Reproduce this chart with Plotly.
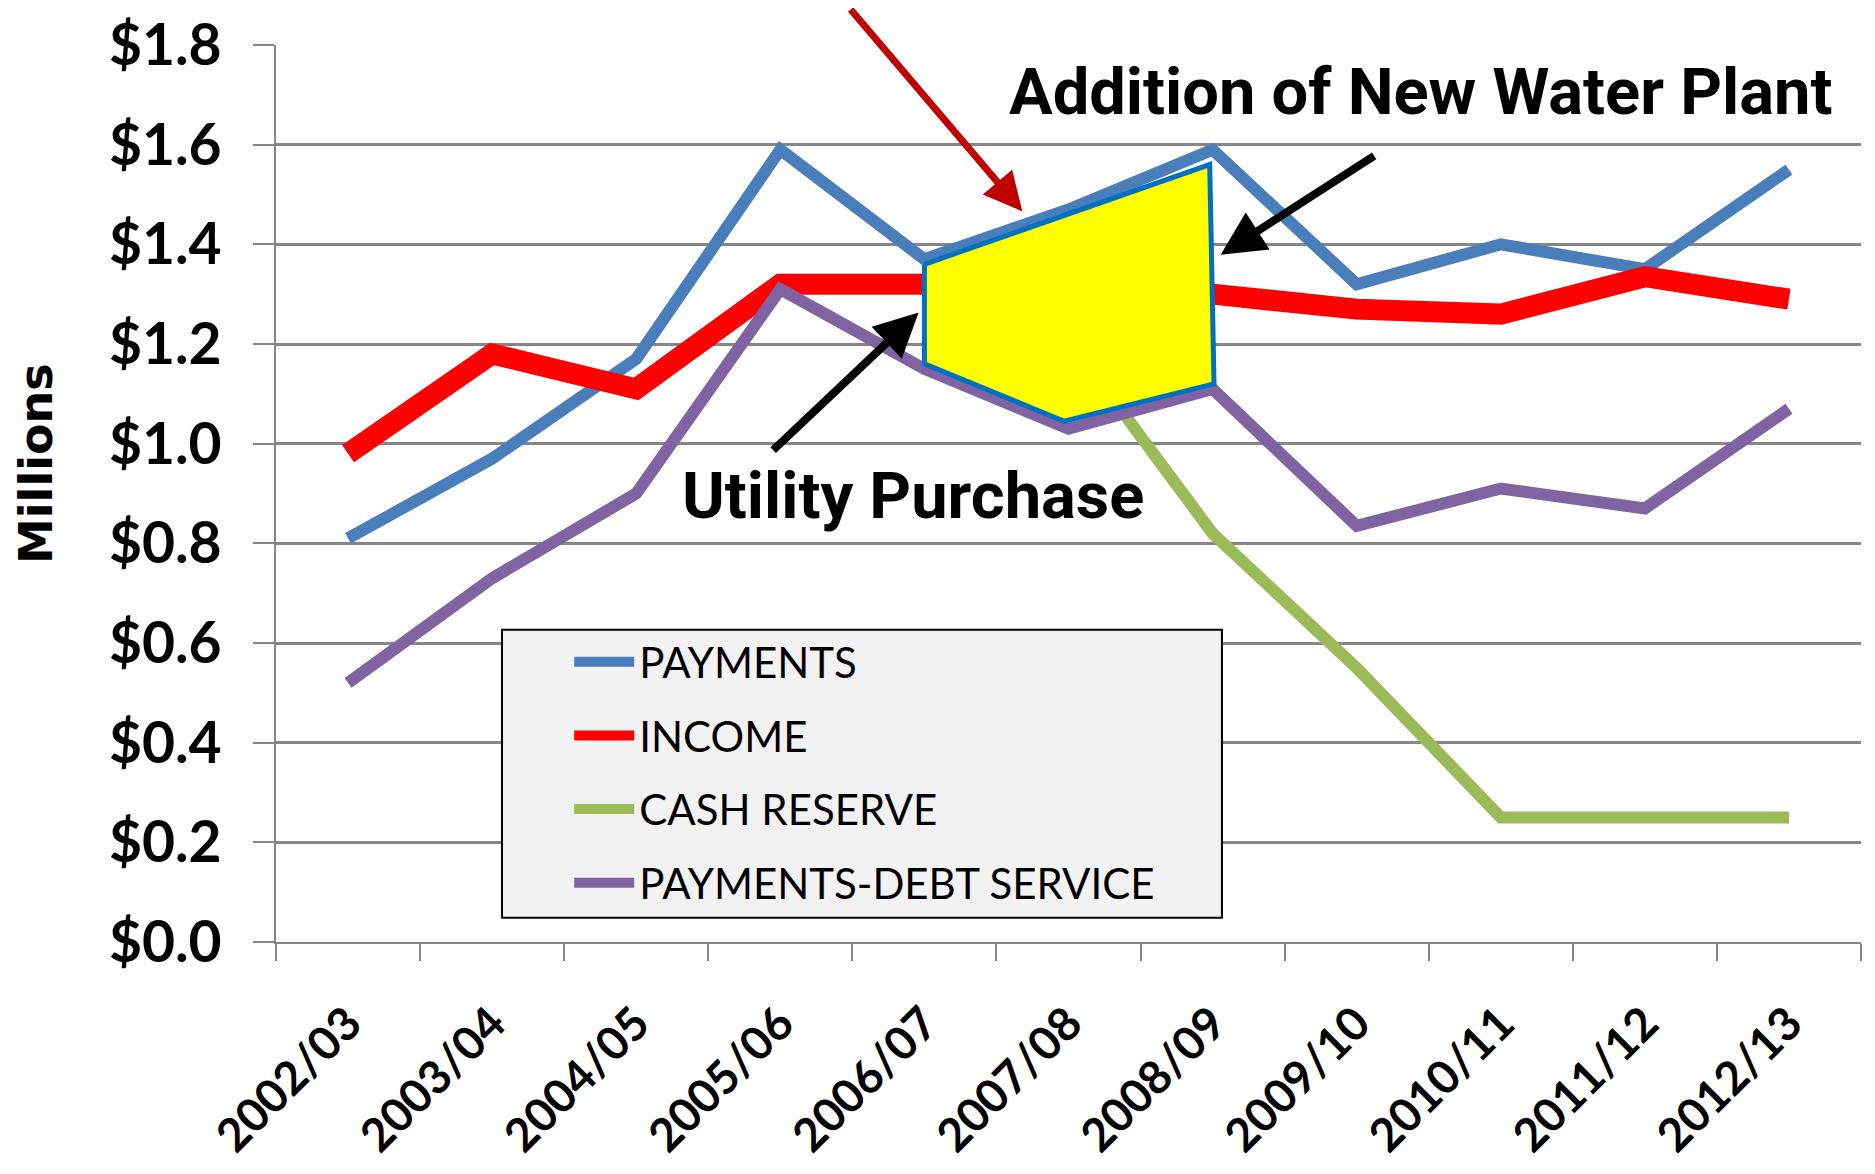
import plotly.graph_objects as go

# Fiscal years on the x axis
YEARS = ["2002/03", "2003/04", "2004/05", "2005/06", "2006/07", "2007/08",
         "2008/09", "2009/10", "2010/11", "2011/12", "2012/13"]

# Values in millions of dollars
PAYMENTS = [0.81, 0.97, 1.17, 1.59, 1.37, 1.47, 1.59, 1.32, 1.40, 1.35, 1.55]
INCOME = [0.98, 1.18, 1.11, 1.32, 1.32, 1.31, 1.30, 1.27, 1.26, 1.335, 1.29]
CASH_RESERVE = [None, None, None, None, 1.25, 1.21, 0.82, 0.55, 0.25, 0.25, 0.25]
DEBT_SERVICE = [0.52, 0.73, 0.90, 1.31, 1.15, 1.03, 1.11, 0.835, 0.91, 0.87, 1.07]

# Highlighted region (year index, $M) between utility purchase and new plant
HIGHLIGHT_X = [4, 5.98, 6.01, 4.97, 4, 4]
HIGHLIGHT_Y = [1.36, 1.56, 1.12, 1.045, 1.16, 1.36]

Y_TICKS = [0.0, 0.2, 0.4, 0.6, 0.8, 1.0, 1.2, 1.4, 1.6, 1.8]
Y_TICK_LABELS = ["$0.0", "$0.2", "$0.4", "$0.6", "$0.8",
                 "$1.0", "$1.2", "$1.4", "$1.6", "$1.8"]

GRID = "#868686"
BOLD_FONT = "Roboto"

x_idx = list(range(len(YEARS)))

series = [
    ("PAYMENTS", PAYMENTS, "#4a7ebb", 12),
    ("INCOME", INCOME, "#ff0000", 21),
    ("CASH RESERVE", CASH_RESERVE, "#9bbb59", 12),
    ("PAYMENTS-DEBT SERVICE", DEBT_SERVICE, "#8064a2", 12),
]

fig = go.Figure()

for name, vals, color, width in series:
    fig.add_trace(go.Scatter(
        x=x_idx, y=vals, mode="lines", name=name,
        legendgroup=name,
        line=dict(color=color, width=width),
    ))

# yellow box over the purchase / new plant years
fig.add_trace(go.Scatter(
    x=HIGHLIGHT_X, y=HIGHLIGHT_Y, mode="lines", fill="toself",
    fillcolor="#ffff00", line=dict(color="#0070c0", width=5),
    showlegend=False, hoverinfo="skip",
))

# legend frame
fig.add_shape(type="rect", xref="paper", yref="paper",
              x0=0.1426, x1=0.5968, y0=0.027, y1=0.348,
              fillcolor="#f2f2f2", line=dict(color="black", width=2),
              layer="above")

# axis title, placed by hand so it sits a little above centre like the original
fig.add_annotation(
    x=-0.1514, y=0.533, xref="paper", yref="paper",
    xanchor="center", yanchor="middle", textangle=-90,
    text="<b>Millions</b>", showarrow=False,
    font=dict(family="DejaVu Sans", size=46, color="black"),
)

# labels and arrows
fig.add_annotation(
    x=0.722, y=0.948, xref="paper", yref="paper",
    xanchor="center", yanchor="middle",
    text="<b>Addition of New Water Plant</b>", showarrow=False,
    font=dict(family=BOLD_FONT, size=65, color="black"),
)
fig.add_annotation(
    x=0.402, y=0.497, xref="paper", yref="paper",
    xanchor="center", yanchor="middle",
    text="<b>Utility Purchase</b>", showarrow=False,
    font=dict(family=BOLD_FONT, size=65, color="black"),
)
fig.add_annotation(
    x=4.68, y=1.466, ax=-173, ay=-220, text="",
    showarrow=True, arrowhead=2, arrowsize=1.1, arrowwidth=7,
    arrowcolor="#c00000",
)
fig.add_annotation(
    x=6.056, y=1.379, ax=155, ay=-100, text="",
    showarrow=True, arrowhead=2, arrowsize=1.1, arrowwidth=8,
    arrowcolor="black",
)
fig.add_annotation(
    x=3.96, y=1.263, ax=-147, ay=139, text="",
    showarrow=True, arrowhead=2, arrowsize=1.1, arrowwidth=8,
    arrowcolor="black",
)

fig.update_layout(
    width=1859, height=1158, autosize=False,
    margin=dict(l=268, r=6, t=37, b=224),
    plot_bgcolor="white", paper_bgcolor="white",
    showlegend=True,
    legend=dict(
        x=0.185, y=0.35, xanchor="left", yanchor="top",
        bgcolor="rgba(0,0,0,0)", borderwidth=0,
        font=dict(family="Lato", size=42, color="black"),
        itemwidth=60, tracegroupgap=16, traceorder="grouped",
    ),
    xaxis=dict(
        range=[-0.5, 10.5], tickmode="array", tickvals=x_idx, ticktext=YEARS,
        tickangle=-45, ticks="", showgrid=False, zeroline=False,
        showline=True, linecolor=GRID, linewidth=2, automargin=False,
        tickfont=dict(family="Lato", size=46, color="black", weight="bold"),
        ticklabelstandoff=34,
        minor=dict(tickmode="linear", tick0=-0.5, dtick=1, ticks="outside",
                   ticklen=17, tickwidth=2, tickcolor=GRID, showgrid=False),
    ),
    yaxis=dict(
        range=[0, 1.8], tickmode="array", tickvals=Y_TICKS,
        ticktext=Y_TICK_LABELS, automargin=False,
        ticks="outside", ticklen=21, tickwidth=2, tickcolor=GRID,
        showgrid=True, gridcolor=GRID, gridwidth=2.5,
        zeroline=False, showline=True, linecolor=GRID, linewidth=2,
        tickfont=dict(family="Lato", size=57, color="black", weight="bold"),
        ticklabelstandoff=20,
    ),
)

fig.write_html("out.html")
